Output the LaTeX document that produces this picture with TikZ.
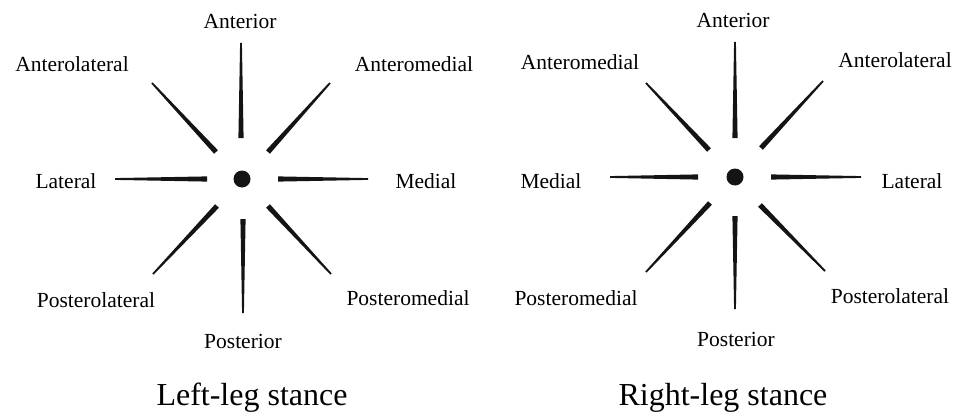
\documentclass[tikz,border=0pt]{standalone}
\usepackage{fontspec}
\setmainfont{Liberation Serif}
\usetikzlibrary{calc}
\tikzset{
  lbl/.style={anchor=base, inner sep=0pt, font=\fontsize{21.5}{24}\selectfont},
  ttl/.style={anchor=base, inner sep=0pt, font=\fontsize{32}{36}\selectfont},
  spk/.style={fill=black!92},
  hub/.style={circle, fill=black!92, inner sep=0pt, minimum size=17pt}
}
\newcommand\spoke[2]{\fill[spk] ($(#1)!2.6pt!90:(#2)$) -- ($(#2)!0.9pt!-90:(#1)$) -- ($(#2)!0.9pt!90:(#1)$) -- ($(#1)!2.6pt!-90:(#2)$) -- cycle;}
\begin{document}
\begin{tikzpicture}[x=1pt,y=-1pt]
\useasboundingbox (0,0) rectangle (956,412);
% ---------- Left-leg stance ----------
\node[hub] (Lc) at (242,179) {};
\coordinate (LAi) at (241,138); \coordinate (LAo) at (241,43);
\coordinate (LALi) at (216,152); \coordinate (LALo) at (152,83);
\coordinate (LAMi) at (268,152); \coordinate (LAMo) at (330,83);
\coordinate (LLi) at (207,179); \coordinate (LLo) at (115,179);
\coordinate (LMi) at (278,179); \coordinate (LMo) at (368,179);
\coordinate (LPLi) at (217,206); \coordinate (LPLo) at (153,274);
\coordinate (LPi) at (243,219); \coordinate (LPo) at (243,313);
\coordinate (LPMi) at (268,206); \coordinate (LPMo) at (331,274);
\spoke{LAi}{LAo}\spoke{LALi}{LALo}\spoke{LAMi}{LAMo}\spoke{LLi}{LLo}
\spoke{LMi}{LMo}\spoke{LPLi}{LPLo}\spoke{LPi}{LPo}\spoke{LPMi}{LPMo}
\node[lbl] (LtA) at (240,29) {Anterior};
\node[lbl] (LtAL) at (72,72) {Anterolateral};
\node[lbl] (LtAM) at (414,72) {Anteromedial};
\node[lbl] (LtL) at (66,188) {Lateral};
\node[lbl] (LtM) at (426,188) {Medial};
\node[lbl] (LtPL) at (96,307) {Posterolateral};
\node[lbl] (LtPM) at (408,305) {Posteromedial};
\node[lbl] (LtP) at (243,348) {Posterior};
\node[ttl] (LT) at (252,405) {Left-leg stance};
% ---------- Right-leg stance ----------
\node[hub] (Rc) at (735,177) {};
\coordinate (RAi) at (735,138); \coordinate (RAo) at (735,42);
\coordinate (RAMi) at (709,150); \coordinate (RAMo) at (646,83);
\coordinate (RALi) at (761,148); \coordinate (RALo) at (823,81);
\coordinate (RMi) at (698,177); \coordinate (RMo) at (610,177);
\coordinate (RLi) at (771,177); \coordinate (RLo) at (861,177);
\coordinate (RPMi) at (710,203); \coordinate (RPMo) at (646,272);
\coordinate (RPi) at (735,216); \coordinate (RPo) at (735,309);
\coordinate (RPLi) at (760,205); \coordinate (RPLo) at (825,271);
\spoke{RAi}{RAo}\spoke{RAMi}{RAMo}\spoke{RALi}{RALo}\spoke{RMi}{RMo}
\spoke{RLi}{RLo}\spoke{RPMi}{RPMo}\spoke{RPi}{RPo}\spoke{RPLi}{RPLo}
\node[lbl] (RtA) at (733,28) {Anterior};
\node[lbl] (RtAM) at (580,70) {Anteromedial};
\node[lbl] (RtAL) at (895,68) {Anterolateral};
\node[lbl] (RtM) at (551,188) {Medial};
\node[lbl] (RtL) at (912,188) {Lateral};
\node[lbl] (RtPM) at (576,305) {Posteromedial};
\node[lbl] (RtPL) at (890,303) {Posterolateral};
\node[lbl] (RtP) at (736,346) {Posterior};
\node[ttl] (RT) at (723,405) {Right-leg stance};
\end{tikzpicture}
\end{document}
